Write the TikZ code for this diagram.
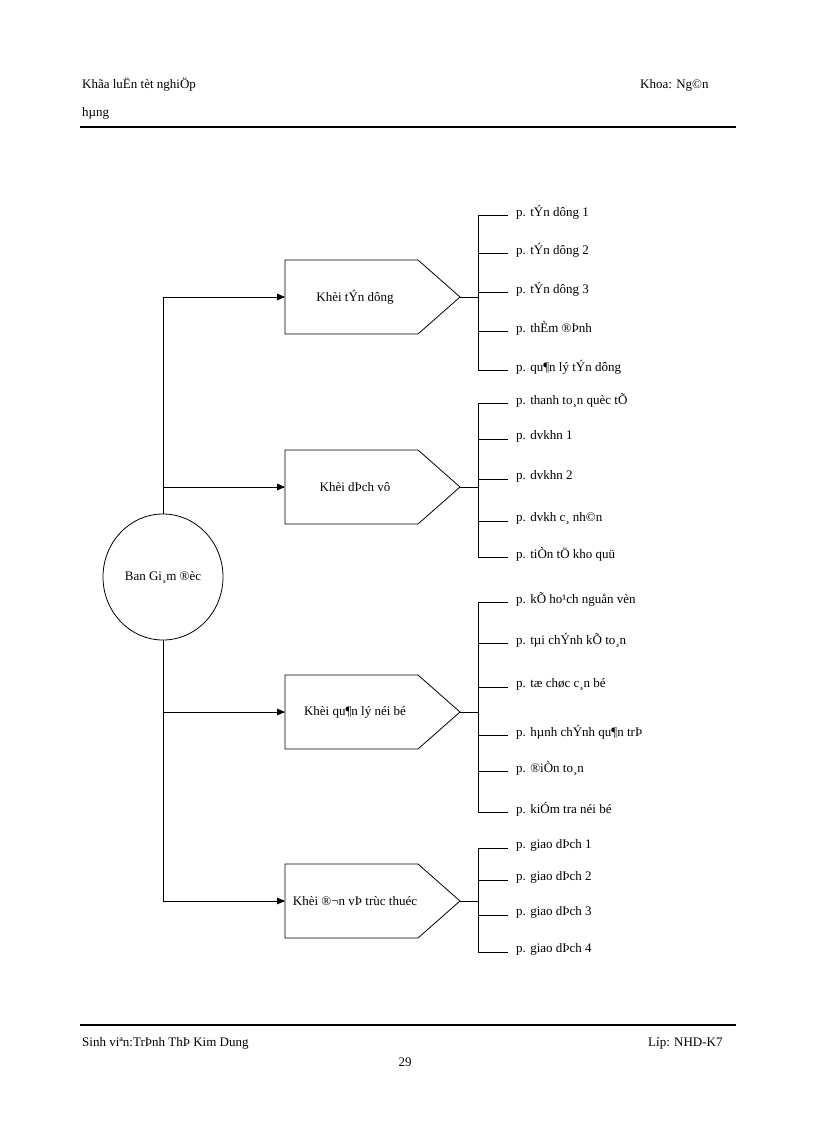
\documentclass[tikz,border=0pt]{standalone}
\usepackage{fontspec}
\setmainfont{Liberation Serif}
\usetikzlibrary{shapes.geometric,arrows,calc}
\begin{document}
\begin{tikzpicture}[x=1pt,y=-1pt,font=\fontsize{13}{15}\selectfont]
	\tikzstyle{txt} = [inner sep=0pt, anchor=west]
	\tikzstyle{line} = [line width=0.8pt]
	\tikzstyle{arrow} = [line width=0.8pt,->,>=triangle 45]
\useasboundingbox (0,0) rectangle (816,1123);
% header and footer
\node(h1)[txt] at (82,85) {Khãa luËn tèt nghiÖp};
\node(h2)[txt] at (82,113) {hµng};
\node(h3)[txt] at (640,85) {Khoa: Ng©n};
\draw [line width=1.2pt] (80,127) coordinate(hl) -- (736,127) coordinate(hr);
\draw [line width=1.2pt] (80,1025) coordinate(fl) -- (736,1025) coordinate(fr);
\node(f1)[txt] at (82,1043) {Sinh viªn:TrÞnh ThÞ Kim Dung};
\node(f2)[txt] at (648,1043) {Líp: NHD-K7};
\node(pg)[inner sep=0pt] at (405,1062) {29};
% centre
\node(ban)[ellipse, draw, line width=0.8pt, minimum width=120pt, minimum height=126pt, inner sep=0pt] at (163,577) {Ban Gi¸m ®èc};
\coordinate(top) at (163,297);
\coordinate(bot) at (163,901);
\draw [line] (ban.north) -- (top);
\draw [line] (ban.south) -- (bot);
% blocks
\foreach \y/\nm/\lb in {297/k1/Khèi tÝn dông, 487/k2/Khèi dÞch vô, 712/k3/Khèi qu¶n lý néi bé, 901/k4/Khèi ®¬n vÞ trùc thuéc}{
  \draw [line] (285,\y-37) -- (418,\y-37) -- (460,\y) -- (418,\y+37) -- (285,\y+37) -- cycle;
  \node(\nm) at (355,\y) {\lb};
  \coordinate(\nm in) at (285,\y);
  \coordinate(\nm out) at (460,\y);
  \coordinate(\nm br) at (478,\y);
  \coordinate(\nm tr) at (163,\y);
  \draw [arrow] (\nm tr) -- (\nm in);
  \draw [line] (\nm out) -- (\nm br);
}
% departments
\foreach \grp/\a/\b/\items in {k1/215/370/{215/p. tÝn dông 1,253/p. tÝn dông 2,292/p. tÝn dông 3,331/p. thÈm ®Þnh,370/p. qu¶n lý tÝn dông},
  k2/403/557/{403/p. thanh to¸n quèc tÕ,439/p. dvkhn 1,479/p. dvkhn 2,521/p. dvkh c¸ nh©n,557/p. tiÒn tÖ kho quü},
  k3/602/812/{602/p. kÕ ho¹ch nguån vèn,643/p. tµi chÝnh kÕ to¸n,687/p. tæ chøc c¸n bé,735/p. hµnh chÝnh qu¶n trÞ,771/p. ®iÒn to¸n,812/p. kiÓm tra néi bé},
  k4/848/952/{848/p. giao dÞch 1,880/p. giao dÞch 2,915/p. giao dÞch 3,952/p. giao dÞch 4}}{
  \draw [line] (478,\a) -- (478,\b);
  \foreach \yy/\t in \items {
    \node(d\yy)[txt] at (516,\yy-3) {\t};
    \draw [line] (478,\yy) -- (508,\yy);
  }
}
\end{tikzpicture}
\end{document}
